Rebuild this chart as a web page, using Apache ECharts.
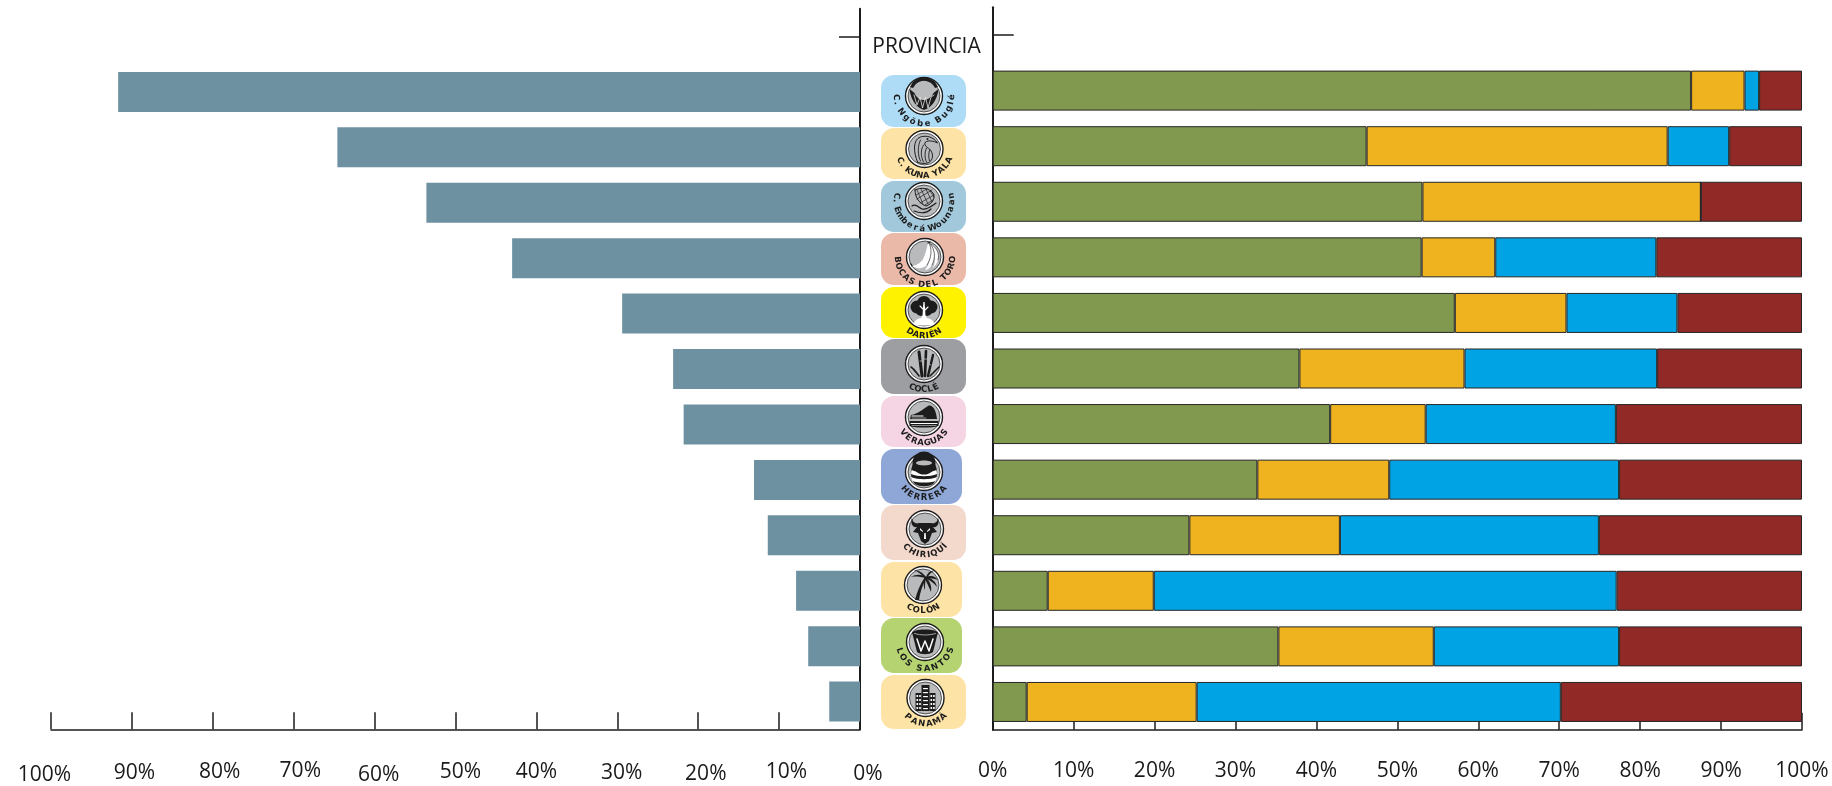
<!DOCTYPE html>
<html>
<head>
<meta charset="utf-8">
<title>Provincia</title>
<script src="https://cdn.jsdelivr.net/npm/echarts@6/dist/echarts.min.js"></script>
<style>html,body{margin:0;padding:0;background:#fff}#c{width:1832px;height:786px}</style>
</head>
<body>
<div id="c"></div>
<script>
const provinces = ['C. Ngöbe Buglé','C. KUNA YALA','C. Emberá Wounaan','BOCAS DEL TORO','DARIÉN','COCLÉ','VERAGUAS','HERRERA','CHIRIQUÍ','COLÓN','LOS SANTOS','PANAMÁ'];
const leftValues = [91.7,64.6,53.6,43.0,29.4,23.1,21.8,13.1,11.4,7.9,6.4,3.8];
const greenValues = [86.3,46.2,53.1,53.0,57.1,37.9,41.7,32.7,24.3,6.8,35.3,4.2];
const orangeValues = [6.6,37.2,34.4,9.1,13.8,20.4,11.8,16.3,18.6,13.1,19.2,21.0];
const blueValues = [1.8,7.6,0,19.9,13.7,23.8,23.5,28.4,32.0,57.2,22.9,45.0];
const redValues = [5.3,9.0,12.5,18.0,15.4,17.9,23.0,22.6,25.1,22.9,22.6,29.8];

// Decorative badge layout (pixels): top, bottom, right, circle centre x/y, fill, text half-arc in degrees, radius
const BADGES = {
  'C. Ngöbe Buglé':   {t:75, b:127,r:966,cx:924,cy:96, fill:'#aedcf6',arc:95, rad:28},
  'C. KUNA YALA':     {t:128,b:179,r:966,cx:924.5,cy:149,fill:'#fee3a6',arc:72,rad:27},
  'C. Emberá Wounaan':{t:181,b:232,r:966,cx:924,cy:201,fill:'#a2c8dc',arc:108,rad:28},
  'BOCAS DEL TORO':   {t:233,b:285,r:966,cx:925,cy:257,fill:'#ebb9a8',arc:92, rad:28},
  'DARIÉN':           {t:287,b:338,r:966,cx:924,cy:310,fill:'#fff200',arc:40, rad:26},
  'COCLÉ':            {t:339,b:394,r:966,cx:924,cy:364,fill:'#9d9ea2',arc:34, rad:26},
  'VERAGUAS':         {t:396,b:447,r:966,cx:924,cy:417,fill:'#f5d5e3',arc:60, rad:26},
  'HERRERA':          {t:449,b:504,r:962,cx:924,cy:472,fill:'#8fa7d6',arc:56, rad:26},
  'CHIRIQUÍ':         {t:505,b:560,r:966,cx:925,cy:529,fill:'#f3d8cc',arc:54, rad:26},
  'COLÓN':            {t:562,b:617,r:962,cx:923,cy:585,fill:'#fee3a6',arc:38, rad:26},
  'LOS SANTOS':       {t:618,b:673,r:962,cx:925,cy:642,fill:'#b5d370',arc:80, rad:27},
  'PANAMÁ':           {t:675,b:729,r:966,cx:925.5,cy:698,fill:'#fee3a6',arc:52,rad:26}
};

const K = '#1c1c1c', W = '#ffffff';
const fillP = (d, c) => ({type:'path', shape:{pathData:d}, style:{fill:c||K, stroke:null}});
const lineP = (d, c, w) => ({type:'path', shape:{pathData:d}, style:{fill:null, stroke:c||K, lineWidth:w||1, lineCap:'round', lineJoin:'round'}});
const box = (x,y,w,h,c) => ({type:'rect', shape:{x,y,width:w,height:h}, style:{fill:c||K}});
const disc = (x,y,r,c) => ({type:'circle', shape:{cx:x,cy:y,r}, style:{fill:c||K}});

const ICONS = {
  'C. Ngöbe Buglé': [
    fillP('M-14.5-7C-13 6-6 12 0 14 6 12 13 6 14.5-7L9.5-3A10 10 0 0 1-9.5-3Z'),
    fillP('M-14-9A15 15 0 0 1 14-9L11-8A12 12 0 0 0-11-8Z'),
    lineP('M-10-1-7 9-4 1-1.5 12 1.5 1 4 12 7 1 10-1', '#e8e8e8', .8)
  ],
  'C. KUNA YALA': [
    lineP('M-7 13C-11 3-12-9-4-12 2-14 9-12 13-6 9-8 4-9 1-7-1-4 2-2 5 0 9 4 9 10 5 13 2 15-3 15-7 13Z', K, 1),
    lineP('M-4-9C-7-3-7 6-4 12M-1-4C-4 1-4 7-1 13M2-1C0 3 0 9 2 13M5 1C4 5 4 9 5 12', K, .9),
    disc(3,-10,1,K)
  ],
  'C. Emberá Wounaan': [
    lineP('M-9-11C-3-14 5-13 9-8 12-3 8 3 2 5-4 3-9-3-9-11Z', K, 1),
    lineP('M-7-11-1 3M-3-12 4 3M2-12 8 1M6-10 10-4M-8-6 3-12M-7-2 8-11M-4 2 10-6M1 4 9-1', K, .7),
    lineP('M-12 5C-8 2-5 7-2 8 3 9 8 5 12 2M-10 10C-5 12 2 13 7 8', K, 1.2)
  ],
  'BOCAS DEL TORO': [
    fillP('M4-14C7-8 7 0 2 8-2 12-8 12-13 9-7 8-3 5-1 0 1-5 2-10 3-14Z', W),
    fillP('M5-13C10-8 11 1 7 8 5 11 2 13 0 13 4 8 7 0 5-13Z', W),
    fillP('M6-13C12-9 15-3 13 3 12 6 10 9 8 11 11 4 11-5 6-13Z', W),
    lineP('M4-14C7-8 7 0 2 8M5-13C10-8 11 1 7 8M6-13C12-9 15-3 13 3', K, .6),
    lineP('M-13 9-14 7M3-14 5-15', K, 1.2)
  ],
  'DARIÉN': [
    fillP('M-3 14-1.5-2 1.5-2 3 14Z', W),
    fillP('M-11 14C-7 7-2 8 0 8 2 8 7 7 11 14 4 16-4 16-11 14Z', W),
    disc(-7,-3,6.5), disc(7,-3,6.5), disc(0,-7,7), disc(-3,1,5), disc(3,1,5),
    fillP('M-1.6 8-1-2-.6-8 .6-8 1-2 1.6 8Z', W),
    lineP('M0 0-4-4M0 1 4-3', W, 1.1)
  ],
  'COCLÉ': [
    lineP('M-2 12-5-12', K, 3), lineP('M1 12 2-13', K, 2.6), lineP('M4 12 9-9', K, 2.4),
    lineP('M-13 3C-10 5-8 8-5 12M6 12C9 9 12 6 15 3', K, 1.6),
    lineP('M-4-3-1-3M0-5 3-5M4 0 7 1', '#b9babc', .8)
  ],
  'VERAGUAS': [
    fillP('M-14 2-13-2C-6-3-1-8 4-11 8-13 12-8 13 2Z'),
    fillP('M-14.5 4H14.5V9C8 11-8 11-14.5 9Z'),
    lineP('M-12-1H-1M-13 6.5H13', W, 1.2),
    lineP('M-12 1H2M-12 8.5H12', '#b9babc', .7)
  ],
  'HERRERA': [
    fillP('M-11-8C-14-2-14 7-9 12-4 15 4 15 9 12 14 7 14-2 11-8Z'),
    fillP('M-12.5-2C-6 1 6 1 12.5-2L13 2C6 5-6 5-13 2Z', W),
    fillP('M-13 5C-6 8 6 8 13 5L11.5 9C6 11-6 11-11.5 9Z', W),
    disc(0,-9,11.5), {type:'ellipse', shape:{cx:0,cy:-9,rx:8,ry:2.4}, style:{fill:'#b9babc'}}
  ],
  'CHIRIQUÍ': [
    fillP('M-13-12C-13-7-10-5-6-6L6-6C10-5 13-7 13-12 15-5 12-1 8-2L12 3 7 4 4 12 0 15-4 12-7 4-12 3-8-2C-12-1-15-5-13-12Z'),
    fillP('M-5-1-2 2-2 3-5 1ZM5-1 2 2 2 3 5 1Z', W),
    fillP('M-.7 4 .7 4 1 10-1 10Z', W)
  ],
  'COLÓN': [
    fillP('M-8 15C-6 7-3-1 2-8L3.5-7C-.5 0-3 7-4 15Z'),
    fillP('M3-8C-2-11-7-11-12-8-7-9-2-8 3-7Z'),
    fillP('M3-8C-1-13-5-15-9-15-4-13-1-10 2-7Z'),
    fillP('M3-8C5-13 8-15 11-14 8-13 6-10 4-7Z'),
    fillP('M3-8C8-10 12-9 15-5 11-7 7-6 4-7Z'),
    fillP('M3-8C8-7 13-4 14 2 11-2 7-5 3-6Z'),
    fillP('M3-7C7-4 9 1 8 7 6 2 4-2 2-6Z'),
    fillP('M3-7C2-3 2 1 2 5 0 1 1-4 2-7Z')
  ],
  'LOS SANTOS': [
    fillP('M-12.5-8-8 10C-4 13 4 13 8 10L12.5-8Z'),
    {type:'ellipse', shape:{cx:0,cy:-9,rx:13,ry:3.5}, style:{fill:K}},
    lineP('M-10.5-8.5C-4-6.5 4-6.5 10.5-8.5', W, .6),
    lineP('M-8-3-4 9 0-1 4 9 8-3', W, 1.5)
  ],
  'PANAMÁ': (function () {
    const parts = [box(-10,-5,6,18), box(-4,-13,8,26), box(4,-5,6,18)];
    [-3,1,5,9].forEach(y => { parts.push(box(-9,y,1.6,2,W), box(-6.3,y,1.6,2,W)); });
    [-10,-6,-2,2,6,10].forEach(y => { parts.push(box(-2.4,y,4.8,1.2,W)); });
    [-3,1,5,9].forEach(y => { parts.push(box(5,y,1.6,2,W), box(7.6,y,1.6,2,W)); });
    return parts;
  })()
};

function arcLetters(text, arcDeg, rad) {
  const chars = Array.from(text);
  const weight = c => (c === ' ' ? .55 : c === '.' ? .5 : c === 'I' || c === 'Í' || c === 'l' ? .55 : 1);
  const total = chars.reduce((s, c) => s + weight(c), 0);
  const span = arcDeg * 2 * Math.PI / 180;
  let used = 0;
  return chars.map(c => {
    const w = weight(c);
    const a = -span / 2 + (used + w / 2) / total * span;
    used += w;
    return {
      type:'text', x:Math.sin(a) * rad, y:Math.cos(a) * rad, rotation:a, silent:true,
      style:{text:c, x:0, y:0, align:'center', verticalAlign:'middle', fill:'#1c1c1c', font:'bold 8.5px "DejaVu Sans"'}
    };
  });
}

function renderBadge(params) {
  const name = provinces[params.dataIndex];
  const b = BADGES[name];
  return {
    type:'group',
    children:[
      {type:'rect', shape:{x:881, y:b.t, width:b.r-881, height:b.b-b.t, r:13}, style:{fill:b.fill}},
      {type:'group', x:b.cx, y:b.cy, children:[
        {type:'circle', shape:{cx:0,cy:0,r:18.5}, style:{fill:W, stroke:K, lineWidth:1.4}},
        {type:'circle', shape:{cx:0,cy:0,r:16}, style:{fill:'#b9babc', stroke:K, lineWidth:.7}}
      ].concat(ICONS[name]).concat(arcLetters(name, b.arc, b.rad))}
    ]
  };
}

const AXIS_COLOR = '#1c1c1c';
const cats = [''].concat(provinces);
const withHeader = arr => [null].concat(arr);
const axisLine = {show:true, lineStyle:{color:AXIS_COLOR, width:2}};
const headerTick = idx => idx === 0;
const stackStyle = c => ({color:c, borderColor:'#262626', borderWidth:1});
const stacked = (name, arr, c) => ({
  name, type:'bar', xAxisIndex:1, yAxisIndex:1, stack:'total', barWidth:40,
  data:withHeader(arr), itemStyle:stackStyle(c), silent:true
});
const xBase = {
  type:'value', min:0, max:100, interval:10, splitLine:{show:false},
  axisLine:{show:true, onZero:false, lineStyle:{color:AXIS_COLOR, width:1.5}},
  axisTick:{show:true, inside:true, length:17, lineStyle:{color:AXIS_COLOR, width:1.5}}
};
const labelFont = {color:'#1a1a1a', fontSize:21, fontFamily:'"Open Sans"'};

// The left axis labels sit a little off their ticks in the original: [dx, dy] for 0%, 10% ... 100%
const leftLabelNudge = [[8,3.5],[7.3,1.2],[7.6,3.5],[4.3,2.3],[0,1.2],[4.9,1.2],[4,4.7],[6.6,0],[6.9,1.2],[2.5,2.3],[-6.6,4.7]];
const leftRich = {};
leftLabelNudge.forEach(([dx, dy], i) => {
  leftRich['n' + i] = Object.assign({}, labelFont, {
    padding:[dy, dx < 0 ? -2 * dx : 0, 0, dx > 0 ? 2 * dx : 0]
  });
});

const chart = echarts.init(document.getElementById('c'), null, {renderer:'canvas'});
chart.setOption({
  animation:false,
  backgroundColor:'#ffffff',
  title:{text:'PROVINCIA', left:921.5, top:32, textAlign:'center',
    textStyle:{color:'#1a1a1a', fontSize:21, fontWeight:'normal', fontFamily:'"Open Sans"'}},
  grid:[
    {left:51, width:809, top:8.75, height:722},
    {left:992.7, width:809.3, top:7.25, height:722.5}
  ],
  xAxis:[
    Object.assign({}, xBase, {gridIndex:0, inverse:true,
      axisLabel:Object.assign({}, labelFont, {margin:31, rich:leftRich,
        formatter:v => '{n' + Math.round(v / 10) + '|' + v + '%}'})}),
    Object.assign({}, xBase, {gridIndex:1,
      axisLabel:Object.assign({}, labelFont, {margin:31, formatter:'{value}%'})})
  ],
  yAxis:[
    {gridIndex:0, type:'category', inverse:true, position:'right', data:cats,
      axisLine, axisLabel:{show:false},
      axisTick:{show:true, inside:true, alignWithLabel:true, length:21, interval:headerTick,
        lineStyle:{color:AXIS_COLOR, width:1.5}}},
    {gridIndex:1, type:'category', inverse:true, position:'left', data:cats,
      axisLine, axisLabel:{show:false},
      axisTick:{show:true, inside:true, alignWithLabel:true, length:21, interval:headerTick,
        lineStyle:{color:AXIS_COLOR, width:1.5}}}
  ],
  series:[
    {name:'Total', type:'bar', xAxisIndex:0, yAxisIndex:0, barWidth:40,
      data:withHeader(leftValues), itemStyle:{color:'#6e91a2'}, silent:true},
    stacked('Verde', greenValues, '#81984f'),
    stacked('Amarillo', orangeValues, '#eeb31e'),
    stacked('Azul', blueValues, '#00a4e4'),
    stacked('Rojo', redValues, '#912926'),
    {name:'Provincias', type:'custom', coordinateSystem:'none', silent:true, z:5,
      data:provinces.map((p, i) => [i]), renderItem:renderBadge}
  ]
});
</script>
</body>
</html>
